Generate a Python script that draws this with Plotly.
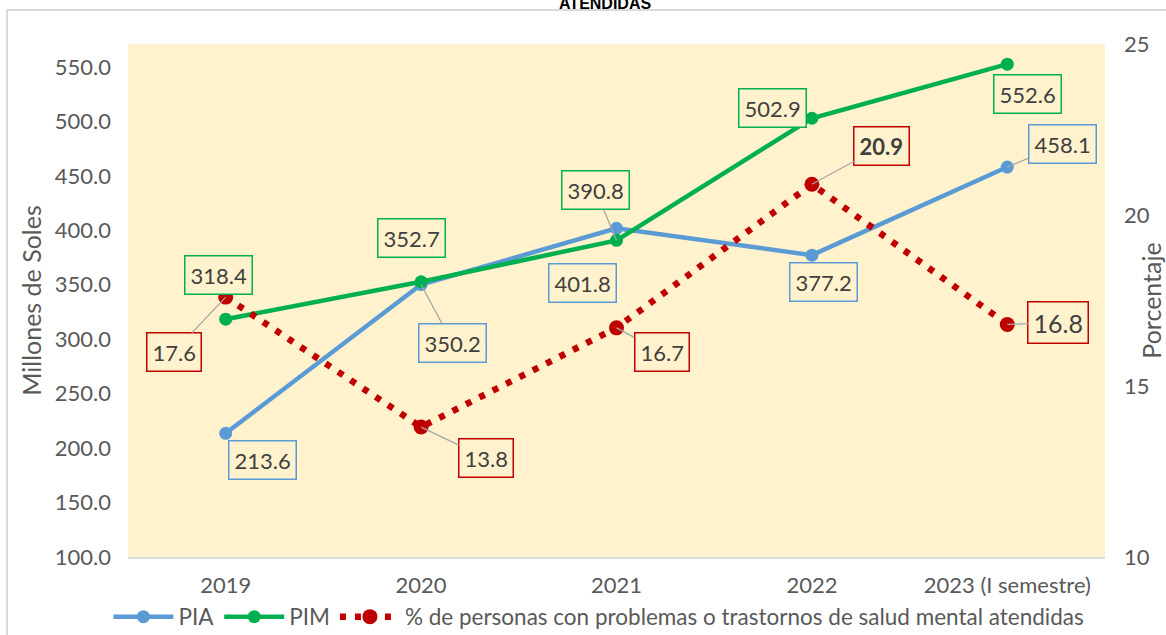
import plotly.graph_objects as go

categories = ["2019", "2020", "2021", "2022", "2023 (I semestre)"]
pia = [213.6, 350.2, 401.8, 377.2, 458.1]
pim = [318.4, 352.7, 390.8, 502.9, 552.6]
pct = [17.6, 13.8, 16.7, 20.9, 16.8]

left_ticks = [100, 150, 200, 250, 300, 350, 400, 450, 500, 550]
right_ticks = [10, 15, 20, 25]

BLUE = "#5B9BD5"
GREEN = "#00B050"
RED = "#C00000"
TXT = "#404040"
AX = "#595959"
BG = "#FFF2CC"
FONT = "Lato"
FS = 22

fig = go.Figure()
fig.add_trace(go.Scatter(x=categories, y=pia, name="PIA", mode="lines+markers",
                         line=dict(color=BLUE, width=4.5), marker=dict(size=13, color=BLUE)))
fig.add_trace(go.Scatter(x=categories, y=pim, name="PIM", mode="lines+markers",
                         line=dict(color=GREEN, width=4.5), marker=dict(size=13, color=GREEN)))
fig.add_trace(go.Scatter(x=categories, y=pct, name="% de personas con problemas o trastornos de salud mental atendidas",
                         mode="lines+markers", yaxis="y2",
                         line=dict(color=RED, width=6.5, dash="6px,9px"), marker=dict(size=15, color=RED)))

# label offsets from their point in pixels (dx right, dy down), and whether a leader line is drawn
pia_pos = [(37, 27, False), (31, 58, True), (-34, 55, False), (12, 27, False), (55, -23, True)]
pim_pos = [(-7, -44, False), (-10, -44, False), (-21, -50, True), (-39, -10, False), (20, 30, False)]
pct_pos = [(-52, 55, True), (65, 31, True), (45, 24, True), (70, -38, True), (51, -2, True)]

def add_labels(values, positions, color, yref, bold_idx=None, big_idx=None):
    for i, (v, (dx, dy, leader)) in enumerate(zip(values, positions)):
        txt = f"{v:.1f}"
        size = FS
        if bold_idx is not None and i == bold_idx:
            txt = f"<b>{txt}</b>"
        if big_idx is not None and i == big_idx:
            size = 25
        common = dict(x=i, y=v, xref="x", yref=yref, text=txt,
                      font=dict(family=FONT, size=size, color=TXT),
                      bordercolor=color, borderwidth=1.5, borderpad=5, bgcolor=BG)
        if leader:
            fig.add_annotation(**common, showarrow=True, ax=dx, ay=dy, arrowhead=0,
                               arrowwidth=1.3, arrowcolor="#A6A6A6", standoff=0)
        else:
            fig.add_annotation(**common, showarrow=False, xshift=dx, yshift=-dy)

add_labels(pia, pia_pos, BLUE, "y")
add_labels(pim, pim_pos, GREEN, "y")
add_labels(pct, pct_pos, RED, "y2", bold_idx=3, big_idx=4)

# clipped title (only its lower part shows at the top edge)
fig.add_annotation(x=0.488, y=1.079, xref="paper", yref="paper", text="<b>ATENDIDAS</b>",
                   showarrow=False, yanchor="middle",
                   font=dict(family="Liberation Sans", size=16, color="#000000"))

# chart border
fig.add_shape(type="rect", xref="paper", yref="paper", x0=-0.1238, y0=-0.3, x1=1.2, y1=1.0663,
              line=dict(color="#D9D9D9", width=2), layer="below")

fig.update_layout(
    width=1166, height=635,
    margin=dict(l=128, r=61, t=44, b=78, autoexpand=False),
    paper_bgcolor="white", plot_bgcolor=BG,
    showlegend=True,
    legend=dict(orientation="h", x=0.482, xanchor="center", y=-0.117, yanchor="middle",
                font=dict(family=FONT, size=22.5, color=AX), itemwidth=60,
                bgcolor="rgba(0,0,0,0)"),
    xaxis=dict(type="category", range=[-0.5, 4.5], showgrid=False, showline=True,
               linecolor="#D9D9D9", linewidth=1.5, ticks="", automargin=False,
               ticklabelstandoff=8,
               tickfont=dict(family=FONT, size=FS, color=AX)),
    yaxis=dict(range=[100, 571.1], tickvals=left_ticks, tickformat=".1f", showgrid=False,
               zeroline=False, showline=False, ticks="", automargin=False,
               ticklabelstandoff=16,
               tickfont=dict(family=FONT, size=FS, color=AX),
               title=dict(text="Millones de Soles", font=dict(family=FONT, size=25, color=AX), standoff=6)),
    yaxis2=dict(range=[10, 25], tickvals=right_ticks, overlaying="y", side="right",
                showgrid=False, zeroline=False, showline=False, ticks="", automargin=True,
                tickfont=dict(family=FONT, size=FS, color=AX), ticklabelstandoff=18,
                title=dict(text="Porcentaje", font=dict(family=FONT, size=25, color=AX), standoff=12)),
)

fig.write_html("out.html", config={"displayModeBar": False},
               post_script="document.body.style.margin='0';")
